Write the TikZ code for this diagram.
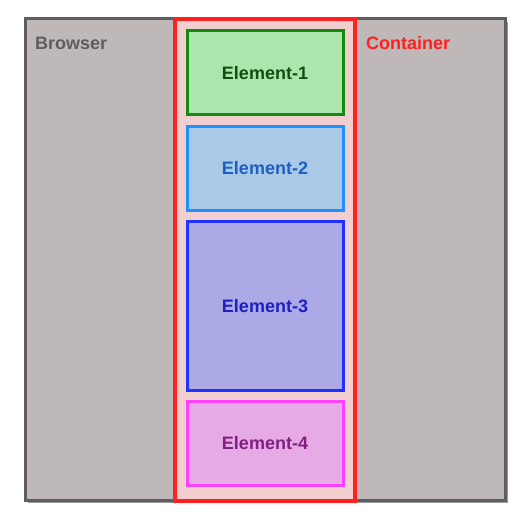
\documentclass[tikz,border=0pt]{standalone}
\usepackage{fontspec}
\setmainfont{Liberation Sans}
\usetikzlibrary{shadows}
\definecolor{brfill}{HTML}{BEB8B9}
\definecolor{brline}{HTML}{5E5E5E}
\definecolor{cofill}{HTML}{F2CFCF}
\definecolor{coline}{HTML}{FF2020}
\definecolor{eafill}{HTML}{ADE6AD}
\definecolor{ealine}{HTML}{148A14}
\definecolor{eatext}{HTML}{0F4F0F}
\definecolor{ebfill}{HTML}{A9C9E6}
\definecolor{ebline}{HTML}{2090FF}
\definecolor{ebtext}{HTML}{1E5FBF}
\definecolor{ecfill}{HTML}{ABAAE6}
\definecolor{ecline}{HTML}{2030FF}
\definecolor{ectext}{HTML}{2020C0}
\definecolor{edfill}{HTML}{E6AAE6}
\definecolor{edline}{HTML}{FF40FF}
\definecolor{edtext}{HTML}{802080}
\tikzset{
  lbl/.style={font=\fontsize{18}{21}\selectfont\bfseries, inner sep=0pt},
  elem/.style={draw, line width=3pt, minimum width=156pt, inner sep=0pt, lbl},
}
\begin{document}
\begin{tikzpicture}[x=1pt,y=-1pt]
\useasboundingbox (0,0) rectangle (530,529);
\node[draw=brline, fill=brfill, line width=3pt, minimum width=480pt, minimum height=481pt, inner sep=0pt,
      drop shadow={shadow xshift=3pt, shadow yshift=-3pt, opacity=0.5, fill=black!80}] (browser) at (265,259.5) {};
\node[draw=coline, fill=cofill, line width=3.2pt, minimum width=180pt, minimum height=482pt, inner sep=0pt] (container) at (265,260) {};
\node[lbl, text=brline, anchor=west] (browserlbl) at (35,43) {Browser};
\node[lbl, text=coline, anchor=west] (containerlbl) at (366,43) {Container};
\node[elem, draw=ealine, fill=eafill, text=eatext, minimum height=84pt] (e1) at (265,73) {Element-1};
\node[elem, draw=ebline, fill=ebfill, text=ebtext, minimum height=84pt] (e2) at (265,168.5) {Element-2};
\node[elem, draw=ecline, fill=ecfill, text=ectext, minimum height=168pt] (e3) at (265,306) {Element-3};
\node[elem, draw=edline, fill=edfill, text=edtext, minimum height=84pt] (e4) at (265,443.5) {Element-4};
\end{tikzpicture}
\end{document}
